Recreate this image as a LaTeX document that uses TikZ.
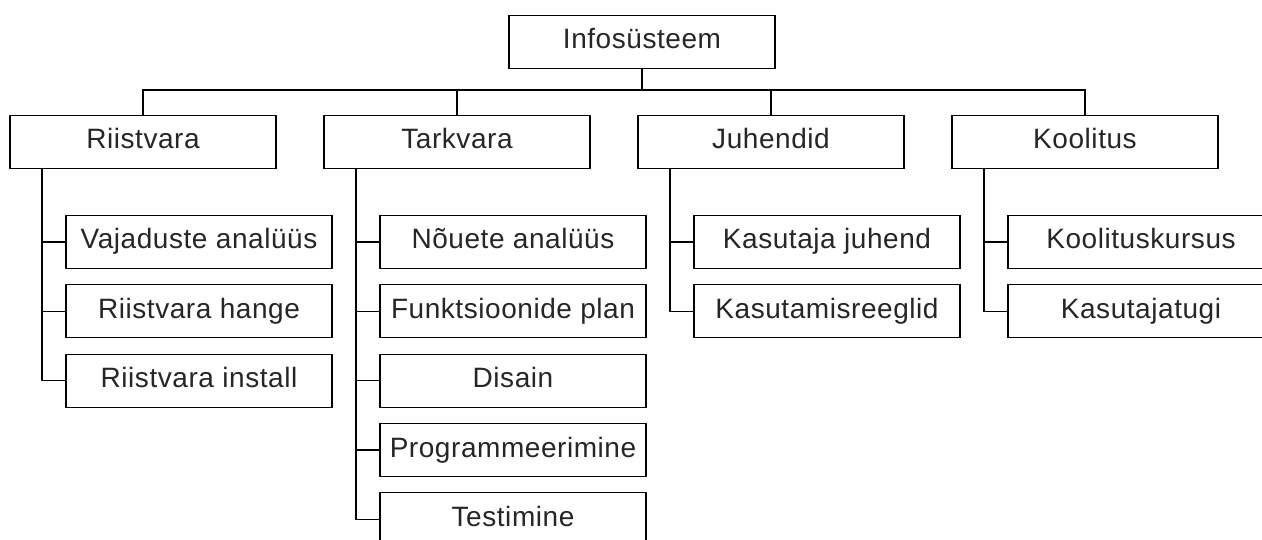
\documentclass[tikz,border=0pt]{standalone}
\usepackage{fontspec}
\setmainfont[LetterSpace=2]{Liberation Sans}
\begin{document}
\begin{tikzpicture}[x=1pt,y=-1pt,
  box/.style={draw,line width=1.2pt,rectangle,minimum width=266pt,minimum height=53pt,
    inner sep=0pt,text height=20pt,text depth=6pt,text=black!85,
    font=\fontsize{28}{30}\selectfont},
  link/.style={line width=1.2pt}]
\clip (0,0) rectangle (1262,540);
\fill[white] (0,0) rectangle (1262,540);

% top of the tree
\node[box] (root) at (642,42) {Infosüsteem};

% first level
\node[box] (riist) at (143,142) {Riistvara};
\node[box] (tark)  at (457,142) {Tarkvara};
\node[box] (juh)   at (771,142) {Juhendid};
\node[box] (kool)  at (1085,142) {Koolitus};

% second level
\node[box] (r1) at (199,242) {Vajaduste analüüs};
\node[box] (r2) at (199,311.3) {Riistvara hange};
\node[box] (r3) at (199,380.6) {Riistvara install};

\node[box] (t1) at (513,242) {Nõuete analüüs};
\node[box] (t2) at (513,311.3) {Funktsioonide plan};
\node[box] (t3) at (513,380.6) {Disain};
\node[box] (t4) at (513,450) {Programmeerimine};
\node[box] (t5) at (513,519.3) {Testimine};

\node[box] (j1) at (827,242) {Kasutaja juhend};
\node[box] (j2) at (827,311.3) {Kasutamisreeglid};

\node[box] (k1) at (1141,242) {Koolituskursus};
\node[box] (k2) at (1141,311.3) {Kasutajatugi};

% bus under the root
\draw[link] (root.south) -- ++(0,21) coordinate (bus);
\draw[link] (riist.north) |- (bus) -| (kool.north);
\draw[link] (tark.north) -- (tark.north |- bus);
\draw[link] (juh.north) -- (juh.north |- bus);

% spines of each branch
\coordinate (rv) at ([xshift=-101pt]riist.south);
\coordinate (tv) at ([xshift=-101pt]tark.south);
\coordinate (jv) at ([xshift=-101pt]juh.south);
\coordinate (kv) at ([xshift=-101pt]kool.south);

\draw[link] (rv) |- (r3.west);
\draw[link] (r1.west) -- (r1.west -| rv);
\draw[link] (r2.west) -- (r2.west -| rv);

\draw[link] (tv) |- (t5.west);
\foreach \n in {t1,t2,t3,t4} \draw[link] (\n.west) -- (\n.west -| tv);

\draw[link] (jv) |- (j2.west);
\draw[link] (j1.west) -- (j1.west -| jv);

\draw[link] (kv) |- (k2.west);
\draw[link] (k1.west) -- (k1.west -| kv);
\end{tikzpicture}
\end{document}
